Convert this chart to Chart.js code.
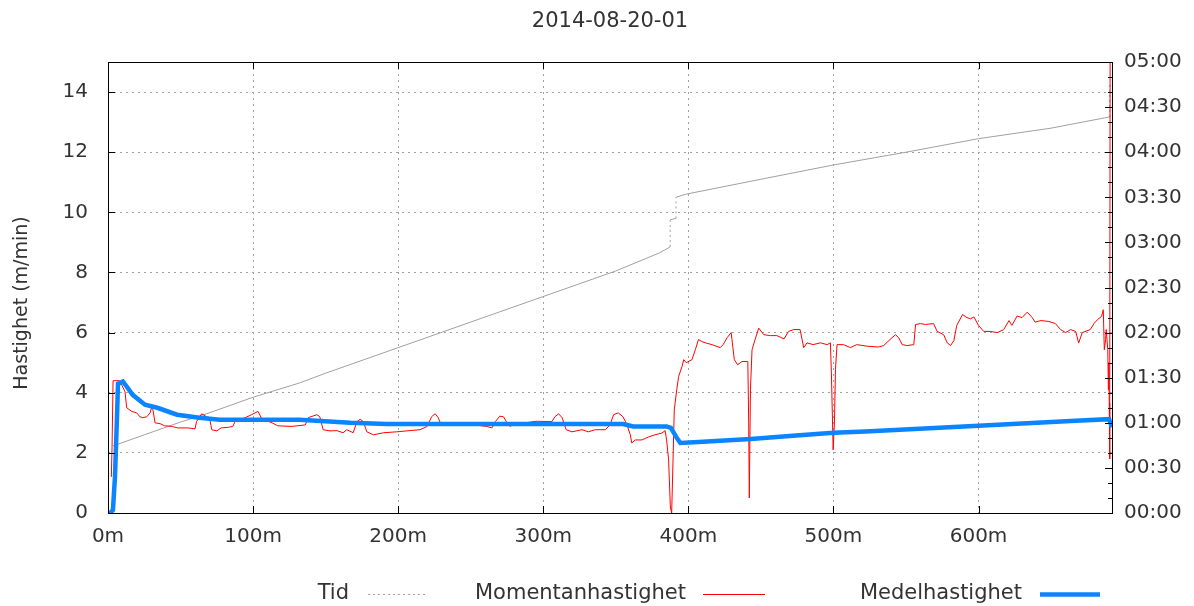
<!DOCTYPE html>
<html>
<head>
<meta charset="utf-8">
<script src="https://cdn.jsdelivr.net/npm/chart.js@4"></script>
<style>
  body { margin: 0; background: #fff; }
  #wrap { width: 1194px; height: 606px; }
</style>
</head>
<body>
<div id="wrap"><canvas id="myChart" width="1194" height="606"></canvas></div>
<script>
const chartTitle = '2014-08-20-01';
const yTitle = 'Hastighet (m/min)';
const xTicks = [0, 100, 200, 300, 400, 500, 600];

// Tid: elapsed time (minutes) against distance (m)
const tidDist = [3.4, 25, 50, 68, 100, 132, 150, 200, 250, 300, 350, 380, 387.5, 387.5, 391.5, 391.5, 398, 450, 500, 550, 600, 650, 690.5, 690.5];
const tidMin = [44.6, 52, 60.5, 66, 77, 86.5, 93, 110, 127, 144, 161, 173, 177, 195, 196, 210, 212, 222, 231.5, 240, 249, 256, 263.5, 286];

// Momentanhastighet (m/min)
const momDist = [2.3, 2.8, 3.5, 8, 11.7, 12.9, 16.3, 19.8, 22, 24, 26.7, 29, 30, 31, 32.4, 36, 39, 44, 48, 55, 60, 61, 64.6, 68, 70, 71.5, 75, 78, 83, 86, 87.6, 94.5, 99, 103.4, 106, 113, 117, 126.7, 136, 138, 144, 146, 148.3, 153, 157.7, 162, 164.6, 169, 171.5, 173.8, 176, 178.4, 183, 190, 199, 208, 215, 220, 223, 225.5, 227.6, 229, 245, 261, 264.6, 267, 270, 272.6, 275, 277, 280, 295, 306, 308, 310.6, 313, 315.8, 319.8, 326.7, 331, 335.9, 342.8, 346, 348.5, 351.7, 355, 357.7, 360, 361, 363.4, 368, 372.6, 377, 381.8, 384, 385, 386.4, 387.6, 388.5, 389.4, 390.3, 392, 393.3, 395.7, 396.8, 398.6, 402.5, 404.8, 407, 409.4, 411.7, 416.3, 422, 424, 426.7, 429.5, 431.7, 434, 437, 441, 441.6, 442, 442.8, 443.9, 446, 448.5, 452, 456.6, 461, 466, 469, 472.6, 477, 479.5, 481.8, 486, 491, 495.7, 497.9, 498.6, 499.8, 500.7, 501.4, 502.5, 507, 511.7, 516, 523, 531, 534.7, 539, 542.8, 545, 547.4, 550.8, 555.4, 556.6, 560, 563.4, 569, 571.5, 576, 578.4, 580.7, 583, 585, 589, 592, 594.5, 596.8, 600, 603.6, 608, 613, 617.4, 621, 623, 626.6, 630, 633.6, 637, 639, 643, 648.5, 653, 656.6, 660, 663.5, 667, 669, 671.5, 677, 679.6, 682, 684.8, 686, 686.7, 687.6, 688, 689.1, 689.5, 689.8, 690.1, 690.4, 690.7];
const momSpeed = [1.2, 2.2, 4.4, 4.4, 4.04, 3.5, 3.38, 3.33, 3.2, 3.17, 3.2, 3.33, 3.5, 3.43, 3.0, 2.97, 2.9, 2.88, 2.83, 2.83, 2.8, 3.04, 3.3, 3.2, 3.17, 2.77, 2.73, 2.83, 2.85, 2.88, 3.04, 3.17, 3.27, 3.38, 3.13, 3.0, 2.9, 2.88, 2.93, 3.17, 3.27, 3.2, 2.77, 2.73, 2.74, 2.67, 2.77, 2.67, 3.03, 3.12, 3.04, 2.7, 2.6, 2.67, 2.7, 2.74, 2.77, 2.88, 3.2, 3.3, 3.17, 3.0, 2.97, 2.88, 2.83, 3.04, 3.22, 3.2, 3.0, 2.88, 2.95, 3.05, 3.04, 3.2, 3.3, 3.17, 2.77, 2.7, 2.77, 2.7, 2.77, 2.77, 2.93, 3.27, 3.33, 3.2, 2.93, 2.6, 2.33, 2.43, 2.43, 2.53, 2.6, 2.66, 2.74, 2.43, 1.77, 0.2, 0, 1.67, 3.43, 4.1, 4.54, 4.88, 5.1, 5.0, 5.1, 5.43, 5.77, 5.7, 5.66, 5.6, 5.5, 5.6, 5.83, 6.0, 5.1, 4.93, 5.04, 5.04, 3.0, 0.5, 4.1, 5.43, 5.77, 6.15, 5.93, 5.9, 5.9, 5.79, 6.04, 6.1, 6.1, 5.5, 5.66, 5.6, 5.66, 5.6, 5.66, 4.66, 2.1, 3.0, 4.77, 5.6, 5.6, 5.5, 5.6, 5.55, 5.52, 5.57, 5.77, 5.93, 5.83, 5.6, 5.57, 5.6, 6.27, 6.3, 6.27, 6.3, 6.04, 5.93, 5.66, 5.57, 5.73, 6.24, 6.6, 6.5, 6.46, 6.52, 6.24, 6.04, 6.04, 6.0, 6.1, 6.4, 6.24, 6.55, 6.5, 6.68, 6.5, 6.35, 6.4, 6.37, 6.3, 6.1, 6.0, 6.1, 6.04, 5.65, 6.0, 6.1, 6.3, 6.43, 6.54, 6.76, 5.43, 5.77, 6.1, 5.43, 4.1, 5.0, 3.66, 1.8, 15];

// Medelhastighet (m/min)
const medDist = [0, 1.5, 3.4, 4.8, 6.2, 6.9, 10.3, 13, 17, 25.5, 34, 47.6, 63, 77, 132, 167, 192, 355, 362, 385, 388, 392, 394.5, 410, 443, 472, 500, 522, 600, 667, 690, 692];
const medSpeed = [0, 0, 0.1, 1.2, 3.2, 4.3, 4.37, 4.2, 3.93, 3.6, 3.5, 3.27, 3.17, 3.1, 3.1, 3.0, 2.96, 2.96, 2.88, 2.88, 2.83, 2.5, 2.33, 2.37, 2.46, 2.57, 2.67, 2.71, 2.9, 3.07, 3.12, 2.85];

const toPoints = (xs, ys) => xs.map((x, i) => ({ x: x, y: ys[i] }));

const textColor = '#333333';
const gridColor = '#a0a0a0';
const fontFamily = "'DejaVu Sans', sans-serif";

Chart.defaults.font.family = fontFamily;
Chart.defaults.font.size = 20;
Chart.defaults.color = textColor;

function fmtTime(v){
    const h = Math.floor(v / 60);
    const m = v % 60;
    return String(h).padStart(2, '0') + ':' + String(m).padStart(2, '0');
}

// gnuplot style frame, inward tics, titles and legend
const framePlugin = {
    id: 'frame',
    afterDraw(chart){
        const ctx = chart.ctx;
        const a = chart.chartArea;
        const sx = chart.scales.x, sy = chart.scales.y, sy2 = chart.scales.y2;
        ctx.save();
        ctx.strokeStyle = '#000';
        ctx.lineWidth = 1;
        ctx.strokeRect(a.left + 0.5, a.top + 0.5, a.right - a.left, a.bottom - a.top);
        ctx.beginPath();
        xTicks.forEach(v => {
            const px = Math.round(sx.getPixelForValue(v)) + 0.5;
            ctx.moveTo(px, a.bottom); ctx.lineTo(px, a.bottom - 7);
            ctx.moveTo(px, a.top); ctx.lineTo(px, a.top + 7);
        });
        for(let v = 0; v <= 14; v += 2){
            const py = Math.round(sy.getPixelForValue(v)) + 0.5;
            ctx.moveTo(a.left, py); ctx.lineTo(a.left + 7, py);
        }
        for(let v = 0; v <= 300; v += 10){
            const py = Math.round(sy2.getPixelForValue(v)) + 0.5;
            const len = v % 30 === 0 ? 7 : 4;
            ctx.moveTo(a.right, py); ctx.lineTo(a.right - len, py);
        }
        ctx.stroke();

        ctx.fillStyle = textColor;
        ctx.font = '21px ' + fontFamily;
        ctx.textAlign = 'center';
        ctx.textBaseline = 'middle';
        ctx.fillText(chartTitle, (a.left + a.right) / 2, 22);

        // rotated y label, centred on the canvas height
        ctx.save();
        ctx.translate(22, 303);
        ctx.rotate(-Math.PI / 2);
        ctx.font = '19px ' + fontFamily;
        ctx.fillText(yTitle, 0, 0);
        ctx.restore();

        // legend: label then sample
        const ly = 594;
        const entries = [
            { text: 'Tid', right: 349, x0: 368, x1: 428, color: gridColor, width: 1, dash: [2, 3] },
            { text: 'Momentanhastighet', right: 686, x0: 703, x1: 765, color: '#ff0000', width: 1, dash: [] },
            { text: 'Medelhastighet', right: 1022, x0: 1040, x1: 1100, color: '#0a84ff', width: 4.5, dash: [] }
        ];
        ctx.textAlign = 'right';
        entries.forEach(e => {
            ctx.fillStyle = textColor;
            ctx.fillText(e.text, e.right, ly);
            ctx.beginPath();
            ctx.setLineDash(e.dash);
            ctx.strokeStyle = e.color;
            ctx.lineWidth = e.width;
            ctx.moveTo(e.x0, ly + 0.5);
            ctx.lineTo(e.x1, ly + 0.5);
            ctx.stroke();
        });
        ctx.restore();
    }
};

window.onload = () => {
    const ctx = document.getElementById('myChart').getContext('2d');
    const myChart = new Chart(ctx, {
        type: 'line',
        data: {
            datasets: [{
                label: 'Tid',
                data: toPoints(tidDist, tidMin),
                yAxisID: 'y2',
                borderColor: gridColor,
                borderWidth: 1,
                pointRadius: 0,
                order: 3,
                segment: {
                    borderDash: c => c.p0.parsed.x === c.p1.parsed.x ? [2, 3] : undefined
                }
            }, {
                label: 'Momentanhastighet',
                data: toPoints(momDist, momSpeed),
                yAxisID: 'y',
                borderColor: '#ff0000',
                borderWidth: 1,
                pointRadius: 0,
                order: 2
            }, {
                label: 'Medelhastighet',
                data: toPoints(medDist, medSpeed),
                yAxisID: 'y',
                borderColor: '#0a84ff',
                borderWidth: 4.5,
                pointRadius: 0,
                order: 1
            }]
        },
        options: {
            responsive: false,
            animation: false,
            layout: { padding: { top: 62, left: 0, right: 0, bottom: 0 } },
            plugins: {
                legend: { display: false },
                title: { display: false },
                tooltip: { enabled: false }
            },
            scales: {
                x: {
                    type: 'linear',
                    min: 0,
                    max: 692,
                    afterFit: s => { s.height = 93; },
                    afterBuildTicks: s => { s.ticks = xTicks.map(v => ({ value: v })); },
                    ticks: {
                        callback: v => v + 'm',
                        maxRotation: 0,
                        autoSkip: false,
                        padding: 12
                    },
                    grid: { color: gridColor, drawTicks: false },
                    border: { display: false, dash: [2, 4] }
                },
                y: {
                    position: 'left',
                    min: 0,
                    max: 15,
                    afterFit: s => { s.width = 108; },
                    ticks: { stepSize: 2, includeBounds: false, padding: 20 },
                    grid: { color: gridColor, drawTicks: false },
                    border: { display: false, dash: [2, 4] }
                },
                y2: {
                    position: 'right',
                    min: 0,
                    max: 300,
                    afterFit: s => { s.width = 82; },
                    ticks: { stepSize: 30, callback: v => fmtTime(v), padding: 12 },
                    grid: { drawOnChartArea: false, drawTicks: false },
                    border: { display: false }
                }
            }
        },
        plugins: [framePlugin]
    });
};
</script>
</body>
</html>
